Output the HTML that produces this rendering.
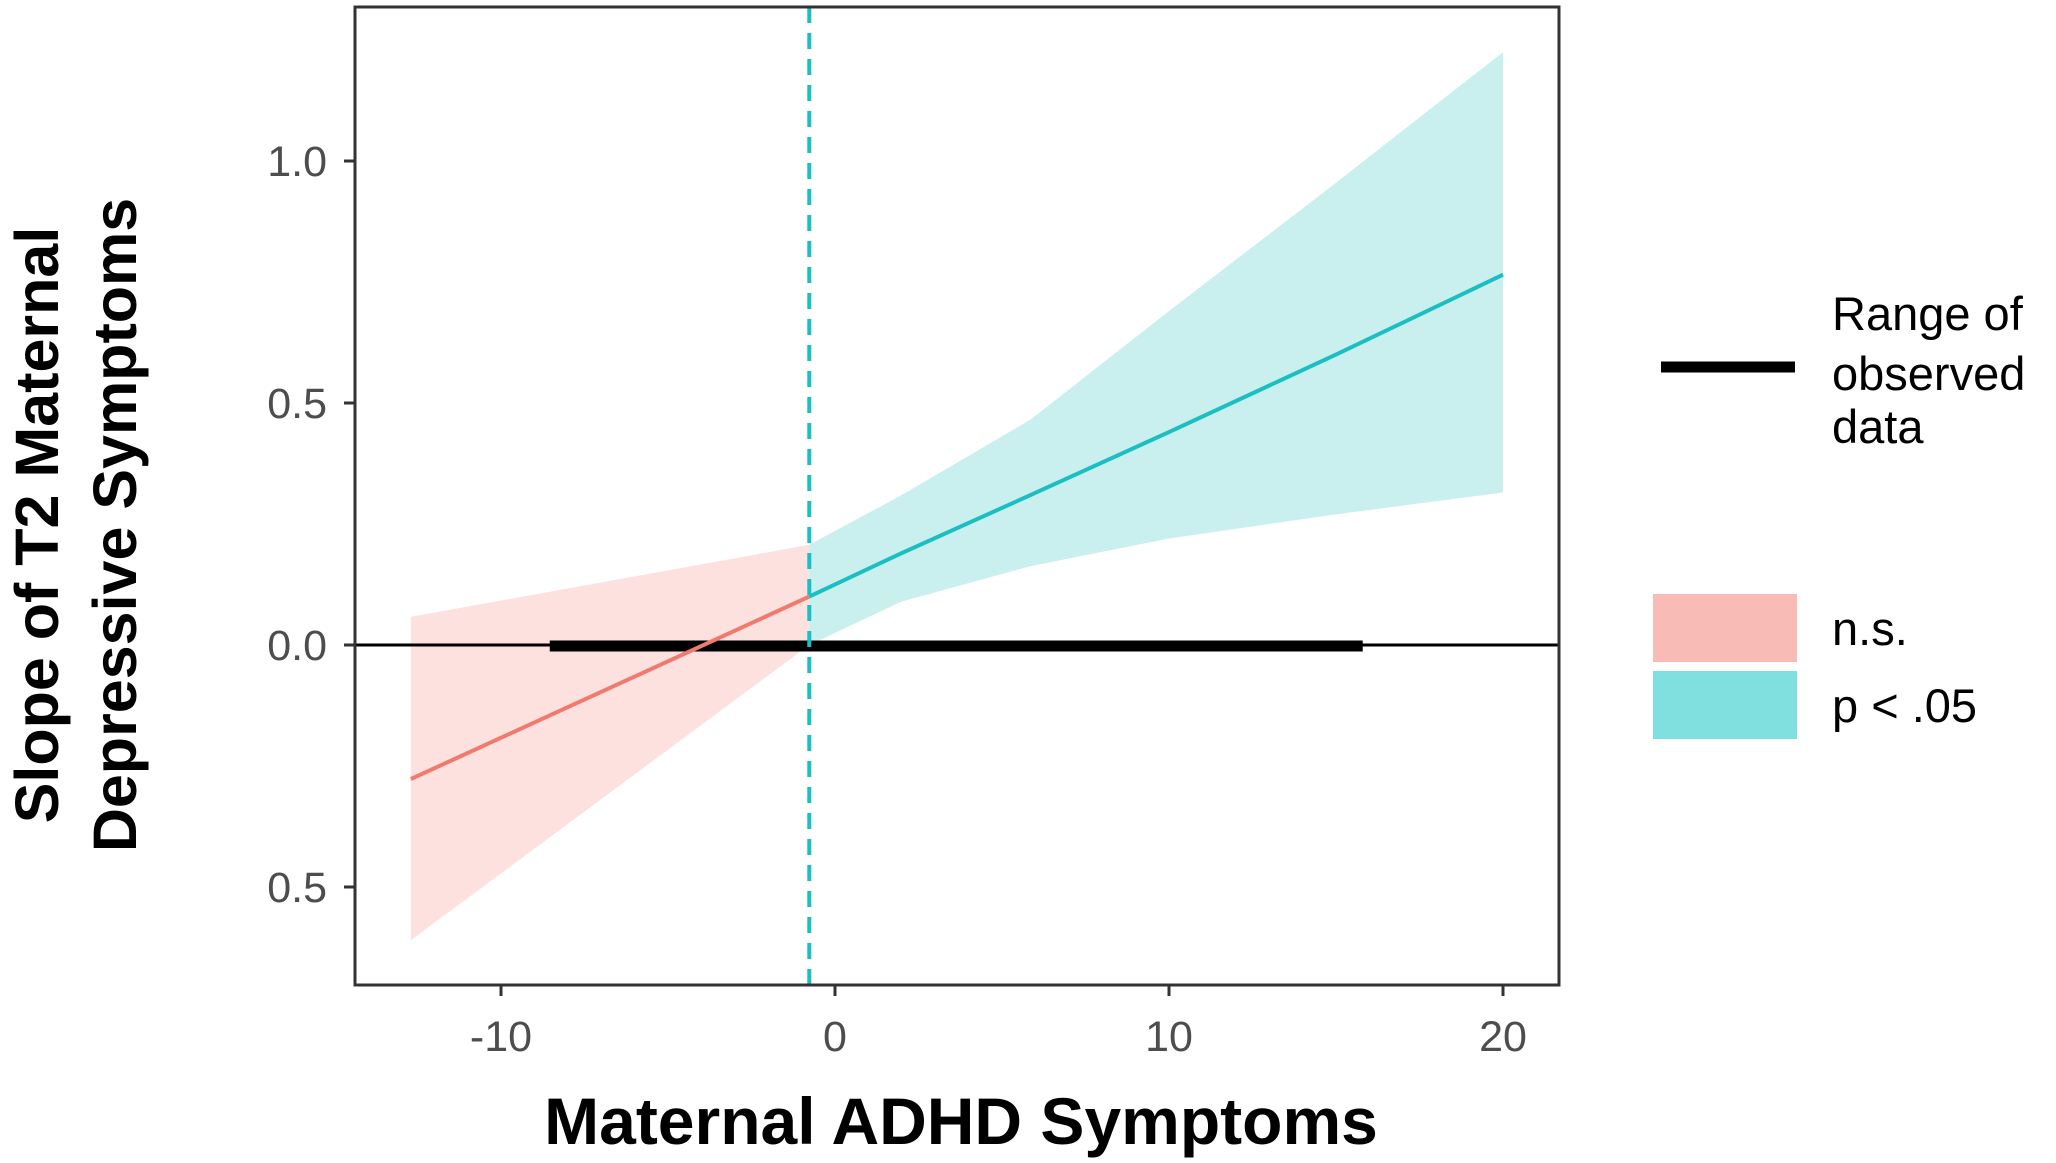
<!DOCTYPE html>
<html><head><meta charset="utf-8"><style>
html,body{margin:0;padding:0;background:#fff;}
svg{display:block;font-family:"Liberation Sans",Arial,sans-serif;}
</style></head><body>
<svg id="chart" width="2056" height="1163" viewBox="0 0 2056 1163" xmlns="http://www.w3.org/2000/svg">
<g id="plot"></g>
<g id="axes"></g>
<text x="961" y="1144" font-size="66" font-weight="bold" text-anchor="middle" fill="#000">Maternal ADHD Symptoms</text>
<g transform="translate(0,525) rotate(-90)">
<text x="0" y="58" font-size="61" font-weight="bold" text-anchor="middle" fill="#000">Slope of T2 Maternal</text>
<text x="0" y="136" font-size="61" font-weight="bold" text-anchor="middle" fill="#000">Depressive Symptoms</text>
</g>
<g>
<line x1="1661" y1="367" x2="1795" y2="367" stroke="#000" stroke-width="11"/>
<text font-size="47" fill="#000"><tspan x="1832" y="330">Range of</tspan><tspan x="1832" y="390">observed</tspan><tspan x="1832" y="443">data</tspan></text>
<rect x="1653" y="594" width="144" height="68" fill="#F8BBB6"/>
<text x="1832" y="645" font-size="47" fill="#000">n.s.</text>
<rect x="1653" y="671" width="144" height="68" fill="#80E0DF"/>
<text x="1832" y="722" font-size="47" fill="#000">p &lt; .05</text>
</g>
</svg>
<script>
const xTicks=[-10,0,10,20];
const yTicks=[1.0,0.5,0.0,-0.5];
const yTickLabels=["1.0","0.5","0.0","0.5"];
const nsX=[-12.7,-0.77];
const nsFit=[-0.277,0.10];
const nsUpper=[0.058,0.207];
const nsLower=[-0.61,0.0];
const sigX=[-0.77,2,5.86,10,15,20];
const sigFit=[0.10,0.19,0.31,0.44,0.60,0.765];
const sigUpper=[0.207,0.31,0.466,0.69,0.955,1.225];
const sigLower=[0.0,0.09,0.163,0.22,0.27,0.315];
const jnPoint=-0.77;
const observedRange=[-8.54,15.8];

const L=355,R=1559,T=7,B=985;
const xs=v=>835+v*33.4;
const ys=v=>645-v*484;
const NS="http://www.w3.org/2000/svg";
const plot=document.getElementById('plot'), axes=document.getElementById('axes');
function mk(tag,attrs,parent){const e=document.createElementNS(NS,tag);for(const k in attrs)e.setAttribute(k,attrs[k]);parent.appendChild(e);return e;}
function band(xv,up,lo){let d='';xv.forEach((x,i)=>d+=(i?'L':'M')+xs(x)+','+ys(up[i]));for(let i=xv.length-1;i>=0;i--)d+='L'+xs(xv[i])+','+ys(lo[i]);return d+'Z';}
function line(xv,yv){return xv.map((x,i)=>(i?'L':'M')+xs(x)+','+ys(yv[i])).join('');}

let e;
e=mk('path',{d:band(nsX,nsUpper,nsLower),fill:'#FCE1DF'},plot);


e=mk('path',{d:band(sigX,sigUpper,sigLower),fill:'#C9F0EF'},plot);


e=mk('line',{x1:L,x2:R,y1:ys(0),y2:ys(0),stroke:'#000','stroke-width':3},plot);


e=mk('line',{x1:xs(observedRange[0]),x2:xs(observedRange[1]),y1:ys(0)+1,y2:ys(0)+1,stroke:'#000','stroke-width':11},plot);


e=mk('path',{d:line(nsX,nsFit),fill:'none',stroke:'#F07A6E','stroke-width':4},plot);


e=mk('path',{d:line(sigX,sigFit),fill:'none',stroke:'#1BBFC2','stroke-width':4},plot);


e=mk('line',{x1:xs(jnPoint),x2:xs(jnPoint),y1:T,y2:B,stroke:'#1BBFC2','stroke-width':4,'stroke-dasharray':'16,10'},plot);



e=mk('rect',{x:L,y:T,width:R-L,height:B-T,fill:'none',stroke:'#333','stroke-width':3},axes);


xTicks.forEach(v=>{
  let t=mk('line',{x1:xs(v),x2:xs(v),y1:B,y2:B+11,stroke:'#333','stroke-width':3},axes);
  
  
  let l=mk('text',{x:xs(v),y:1051,'font-size':43,'text-anchor':'middle',fill:'#4d4d4d'},axes);
  l.textContent=v;
  
  
});
yTicks.forEach((v,i)=>{
  let t=mk('line',{x1:L-11,x2:L,y1:ys(v),y2:ys(v),stroke:'#333','stroke-width':3},axes);
  
  
  let l=mk('text',{x:327,y:ys(v)+15,'font-size':43,'text-anchor':'end',fill:'#4d4d4d'},axes);
  l.textContent=yTickLabels[i];
  
  
});
</script>
</body></html>
